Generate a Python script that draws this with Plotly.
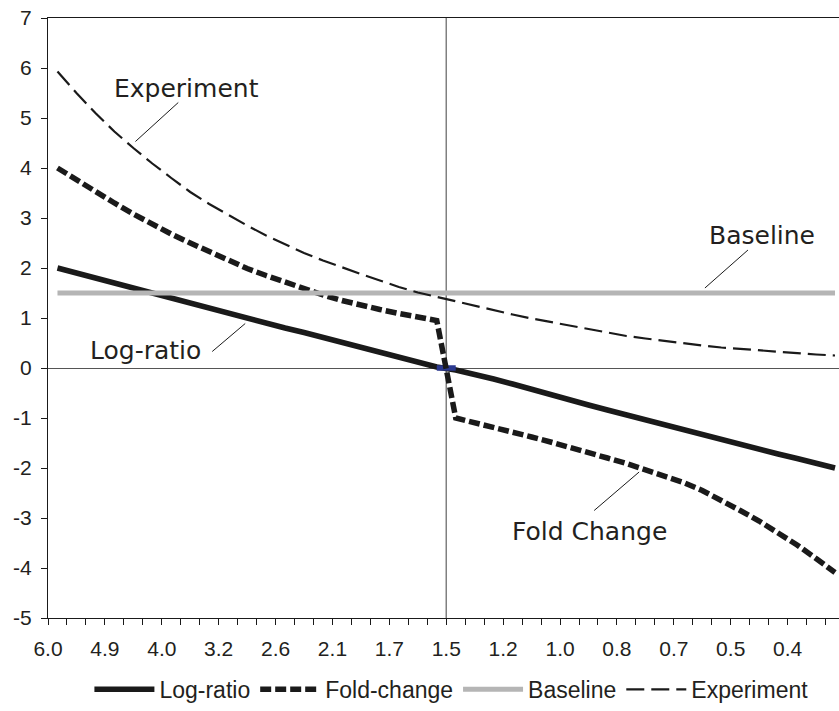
import plotly.graph_objects as go

# ---------------- data ----------------
x_labels = ["6.0", "4.9", "4.0", "3.2", "2.6", "2.1", "1.7",
            "1.5", "1.2", "1.0", "0.8", "0.7", "0.5", "0.4"]
y_ticks = [-5, -4, -3, -2, -1, 0, 1, 2, 3, 4, 5, 6, 7]

log_ratio = [2.00, 1.90, 1.80, 1.70, 1.58, 1.50, 1.40, 1.30, 1.20, 1.09,
             0.98, 0.90, 0.80, 0.71, 0.61, 0.52, 0.42, 0.32, 0.22, 0.11,
             0.02, -0.04, -0.12, -0.22, -0.32, -0.43, -0.53, -0.63, -0.74, -0.84,
             -0.94, -1.04, -1.13, -1.24, -1.33, -1.43, -1.53, -1.62, -1.72, -1.81,
             -1.91, -2.00]

fold_change = [4.00, 3.76, 3.54, 3.30, 3.08, 2.87, 2.68, 2.50, 2.32, 2.15,
               1.99, 1.85, 1.72, 1.58, 1.46, 1.35, 1.25, 1.17, 1.09, 1.01,
               0.95, -1.00, -1.09, -1.18, -1.28, -1.38, -1.48, -1.58, -1.69, -1.80,
               -1.91, -2.03, -2.15, -2.29, -2.45, -2.64, -2.85, -3.06, -3.29, -3.54,
               -3.81, -4.09]

baseline = [1.5] * 42

experiment = [5.93, 5.50, 5.10, 4.73, 4.40, 4.09, 3.80, 3.52, 3.28, 3.06,
              2.85, 2.65, 2.47, 2.30, 2.15, 2.01, 1.88, 1.75, 1.62, 1.51,
              1.42, 1.33, 1.24, 1.15, 1.07, 0.99, 0.92, 0.85, 0.78, 0.71,
              0.64, 0.59, 0.54, 0.49, 0.45, 0.41, 0.38, 0.35, 0.32, 0.29,
              0.27, 0.25]

crossing = [None] * 20 + [0.0, 0.0] + [None] * 20

# ---------------- helpers ----------------
n = len(log_ratio)
idx = list(range(n))
LABEL_STEP = 3
tick_pos = [k - 0.5 for k in range(n)]
tick_txt = [x_labels[k // LABEL_STEP] if (k % LABEL_STEP == 0 and k // LABEL_STEP < len(x_labels)) else ""
            for k in range(n)]
cross_at = x_labels.index("1.5") * LABEL_STEP - 0.5
y_txt = [str(v) for v in y_ticks]

TXT = "#231f20"
AX_FONT = dict(family="Liberation Sans, Arial, sans-serif", size=21, color=TXT)
LEG_FONT = dict(family="Liberation Sans, Arial, sans-serif", size=23, color=TXT)
ANN_FONT = dict(family="DejaVu Sans, sans-serif", size=25, color=TXT)

fig = go.Figure()
fig.add_trace(go.Scatter(x=idx, y=log_ratio, name="Log-ratio", mode="lines",
                         line=dict(color="#1a1a1a", width=5.5)))
fig.add_trace(go.Scatter(x=idx, y=crossing, name="cross", mode="lines", showlegend=False,
                         hoverinfo="skip", line=dict(color="#2b3990", width=5.5)))
fig.add_trace(go.Scatter(x=idx, y=fold_change, name="Fold-change", mode="lines",
                         line=dict(color="#1a1a1a", width=5.5, dash="11px,4px")))
fig.add_trace(go.Scatter(x=idx, y=baseline, name="Baseline", mode="lines",
                         line=dict(color="#b5b5b5", width=5)))
fig.add_trace(go.Scatter(x=idx, y=experiment, name="Experiment", mode="lines",
                         line=dict(color="#1a1a1a", width=2.2, dash="18px,7px")))

# vertical crossing line at category "1.5"
fig.add_shape(type="line", xref="x", yref="paper", x0=cross_at, x1=cross_at, y0=0, y1=1,
              line=dict(color="#808080", width=1.5), layer="below")

# annotations with leader lines
labels_ann = [
    ("Experiment", 6.79, 5.59, (4.11, 4.53, 6.37, 5.31)),
    ("Baseline", 37.15, 2.66, (34.14, 1.60, 36.41, 2.36)),
    ("Log-ratio", 4.63, 0.35, (8.16, 0.33, 9.90, 0.89)),
    ("Fold Change", 28.03, -3.27, (28.30, -2.85, 30.67, -2.08)),
]
for text, tx, ty, (x0, y0, x1, y1) in labels_ann:
    fig.add_annotation(x=tx, y=ty, xref="x", yref="y", text=text, showarrow=False,
                       xanchor="center", yanchor="middle", font=ANN_FONT)
    fig.add_shape(type="line", xref="x", yref="y", x0=x0, y0=y0, x1=x1, y1=y1,
                  line=dict(color="#1a1a1a", width=1))

fig.update_layout(
    width=839, height=711, autosize=False,
    margin=dict(l=48, r=0, t=18, b=90),
    paper_bgcolor="white", plot_bgcolor="white",
    showlegend=True,
    legend=dict(orientation="h", x=0.51, xanchor="center", y=-0.119, yanchor="middle",
                font=LEG_FONT, itemwidth=60, bgcolor="rgba(0,0,0,0)"),
    xaxis=dict(range=[-0.5, 41.21], tickmode="array", tickvals=tick_pos, ticktext=tick_txt,
               ticks="outside", ticklen=6, tickcolor="#1a1a1a", tickwidth=1,
               showline=True, linecolor="#1a1a1a", linewidth=1, mirror=True,
               showgrid=False, zeroline=False, tickfont=AX_FONT, ticklabelstandoff=6),
    yaxis=dict(range=[-5, 7], tickmode="array", tickvals=y_ticks, ticktext=y_txt,
               ticks="outside", ticklen=6,
               tickcolor="#1a1a1a", tickwidth=1, showline=True, linecolor="#1a1a1a",
               linewidth=1, showgrid=False, zeroline=True, zerolinecolor="#555555",
               zerolinewidth=1, tickfont=AX_FONT, ticklabelstandoff=5),
)

fig.write_html("out.html", config={"displayModeBar": False},
               post_script="document.body.style.margin='0';")
